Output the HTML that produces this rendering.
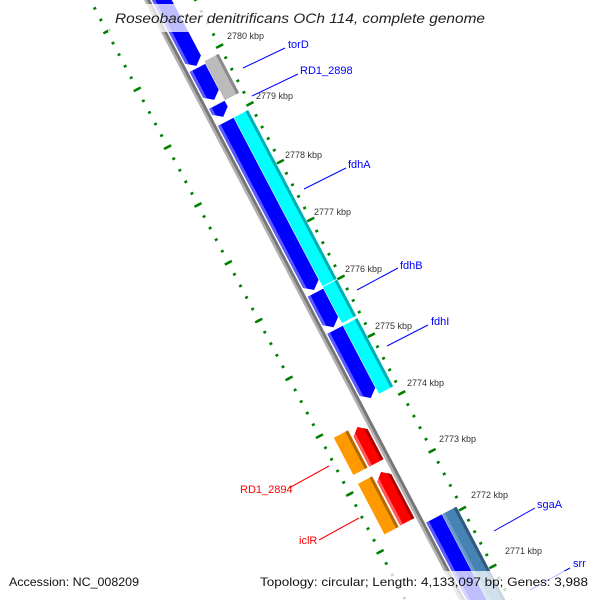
<!DOCTYPE html>
<html><head><meta charset="utf-8"><style>
html,body{margin:0;padding:0;background:#fff;width:600px;height:600px;overflow:hidden;}
svg{display:block;}
text{font-family:"Liberation Sans","DejaVu Sans",sans-serif;}
</style></head><body>
<svg width="600" height="600" viewBox="0 0 600 600" xmlns="http://www.w3.org/2000/svg">
<rect width="600" height="600" fill="#fff"/>
<g transform="translate(148,0) rotate(-27.7)">
  <line x1="42" y1="-57.75" x2="42" y2="760" stroke="#008000" stroke-width="3" stroke-dasharray="2.5 10.56"/>
  <line x1="42" y1="-57.75" x2="42" y2="760" stroke="#008000" stroke-width="8" stroke-dasharray="2.5 62.8"/>
  <line x1="-51" y1="-57.75" x2="-51" y2="760" stroke="#008000" stroke-width="3" stroke-dasharray="2.5 10.56"/>
  <line x1="-51" y1="-57.75" x2="-51" y2="760" stroke="#008000" stroke-width="8" stroke-dasharray="2.5 62.8"/>
  <rect x="-3.5" y="-60" width="2.5" height="820" fill="#b0b0b0"/>
  <rect x="-1" y="-60" width="3" height="820" fill="#777"/>
  <g fill="#0000ff">
    <polygon points="3.5,-40 21,-40 21,73.8 12.25,80.8 3.5,73.8"/>
    <polygon points="3.5,83.1 21,83.1 21,112.2 12.25,119.2 3.5,112.2"/>
    <polygon points="3.5,124.8 21,124.8 21,131.4 12.25,138.4 3.5,131.4"/>
    <polygon points="3.5,144 21,144 21,327 12.25,334 3.5,327"/>
    <polygon points="3.5,337 21,337 21,369 12.25,376 3.5,369"/>
    <polygon points="3.5,379 21,379 21,449 12.25,456 3.5,449"/>
    <polygon points="3.5,592 21,592 21,800 3.5,800"/>
  </g>
  <g fill="#5a5aff">
    <polygon points="3.5,-40 6.5,-40 6.5,76.2 3.5,73.8"/>
    <polygon points="3.5,83.1 6.5,83.1 6.5,114.6 3.5,112.2"/>
    <polygon points="3.5,124.8 6.5,124.8 6.5,133.8 3.5,131.4"/>
    <polygon points="3.5,144 6.5,144 6.5,329.4 3.5,327"/>
    <polygon points="3.5,337 6.5,337 6.5,371.4 3.5,369"/>
    <polygon points="3.5,379 6.5,379 6.5,451.4 3.5,449"/>
    <polygon points="3.5,592 6.5,592 6.5,800 3.5,800"/>
  </g>
  <rect x="21.5" y="80.5" width="16" height="44" fill="#bbbbbb"/>
  <rect x="34.5" y="80.5" width="3" height="44" fill="#8a8a8a"/>
  <g>
    <rect x="21.5" y="144" width="16" height="190.5" fill="#00ffff"/>
    <rect x="21.5" y="335.5" width="16" height="40.8" fill="#00ffff"/>
    <rect x="21.5" y="379" width="16" height="77" fill="#00ffff"/>
    <rect x="34.5" y="144" width="3" height="190.5" fill="#00b0b0"/>
    <rect x="34.5" y="335.5" width="3" height="40.8" fill="#00b0b0"/>
    <rect x="34.5" y="379" width="3" height="77" fill="#00b0b0"/>
    <rect x="21.5" y="592" width="16" height="210" fill="#4682b4"/>
    <rect x="21.5" y="592" width="3" height="210" fill="#6b9cc8"/>
    <rect x="34.5" y="592" width="3" height="210" fill="#30597e"/>
  </g>
  <polygon points="-21,482.3 -13,475.3 -5,482.3 -5,516 -21,516" fill="#ff0000"/>
  <polygon points="-21,533.1 -13,526.1 -5,533.1 -5,582.5 -21,582.5" fill="#ff0000"/>
  <polygon points="-8,479 -5,482.3 -5,516 -8,516" fill="#b00000"/>
  <polygon points="-8,529.8 -5,533.1 -5,582.5 -8,582.5" fill="#b00000"/>
  <polygon points="-21,482.3 -18,479.7 -18,516 -21,516" fill="#ff5a5a"/>
  <polygon points="-21,533.1 -18,530.5 -18,582.5 -21,582.5" fill="#ff5a5a"/>
  <rect x="-39" y="474" width="16" height="42" fill="#ff9900"/>
  <rect x="-39" y="526" width="16" height="57" fill="#ff9900"/>
  <rect x="-26" y="474" width="3" height="42" fill="#b36b00"/>
  <rect x="-26" y="526" width="3" height="57" fill="#b36b00"/>
</g>
<g font-size="9" fill="#333">
  <text x="227" y="39">2780 kbp</text>
  <text x="256" y="99">2779 kbp</text>
  <text x="285" y="158">2778 kbp</text>
  <text x="314" y="215">2777 kbp</text>
  <text x="345" y="272">2776 kbp</text>
  <text x="375" y="329">2775 kbp</text>
  <text x="407" y="386">2774 kbp</text>
  <text x="439" y="442">2773 kbp</text>
  <text x="471" y="498">2772 kbp</text>
  <text x="505" y="554">2771 kbp</text>
</g>
<g stroke="#0000ff" stroke-width="1">
  <line x1="243" y1="68" x2="285" y2="48"/>
  <line x1="252" y1="96" x2="298" y2="74"/>
  <line x1="304" y1="189" x2="346" y2="168"/>
  <line x1="357" y1="290" x2="398" y2="268"/>
  <line x1="387" y1="346" x2="428" y2="325"/>
  <line x1="494" y1="531" x2="535" y2="508"/>
  <line x1="530" y1="590" x2="570" y2="568"/>
</g>
<g font-size="11" fill="#0000ff">
  <text x="288" y="48">torD</text>
  <text x="300" y="74">RD1_2898</text>
  <text x="348" y="168">fdhA</text>
  <text x="400" y="269">fdhB</text>
  <text x="431" y="325">fdhI</text>
  <text x="537" y="508">sgaA</text>
  <text x="573" y="567">srr</text>
</g>
<g stroke="#ff0000" stroke-width="1">
  <line x1="289" y1="488" x2="329" y2="466"/>
  <line x1="319" y1="540" x2="359" y2="518"/>
</g>
<g font-size="11" fill="#ff0000">
  <text x="240" y="493">RD1_2894</text>
  <text x="299" y="544">iclR</text>
</g>
<rect x="108" y="4" width="384" height="28" fill="#fff" fill-opacity="0.75"/>
<text x="115" y="23" font-size="14" font-style="italic" fill="#222" textLength="370" lengthAdjust="spacingAndGlyphs">Roseobacter denitrificans OCh 114, complete genome</text>
<rect x="3" y="571" width="132" height="29" fill="#fff" fill-opacity="0.75"/>
<rect x="254" y="571" width="342" height="29" fill="#fff" fill-opacity="0.75"/>
<text x="9" y="586" font-size="12" fill="#111" textLength="130" lengthAdjust="spacingAndGlyphs">Accession: NC_008209</text>
<text x="260" y="586" font-size="12" fill="#111" textLength="328" lengthAdjust="spacingAndGlyphs">Topology: circular; Length: 4,133,097 bp; Genes: 3,988</text>
</svg>
</body></html>
